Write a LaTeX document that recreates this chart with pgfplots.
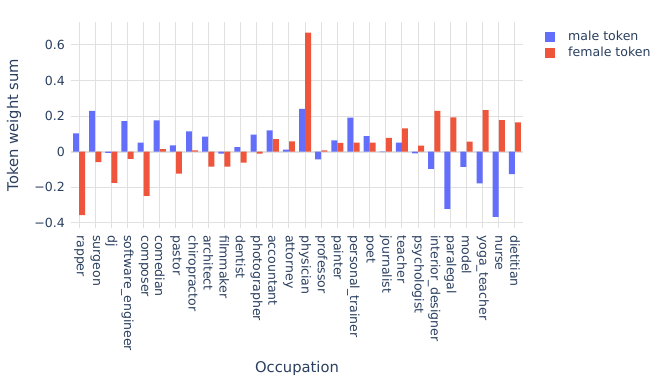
\documentclass[border=0pt]{standalone}
\usepackage{fontspec}
\setmainfont{DejaVu Sans}
\usepackage{pgfplots}
\usepackage{pgfplotstable}
\pgfplotsset{compat=1.18}
\definecolor{malec}{HTML}{636EFA}
\definecolor{femalec}{HTML}{EF553B}
\definecolor{txt}{HTML}{2A3F5F}
\definecolor{gridc}{HTML}{E0E0E0}

% x = category index, m = male token, f = female token
\pgfplotstableread{
x m f
0 0.103 -0.356
1 0.229 -0.058
2 -0.006 -0.176
3 0.172 -0.041
4 0.051 -0.249
5 0.176 0.015
6 0.036 -0.124
7 0.114 0.007
8 0.084 -0.084
9 -0.011 -0.084
10 0.026 -0.062
11 0.096 -0.011
12 0.120 0.071
13 0.011 0.058
14 0.240 0.669
15 -0.043 0.007
16 0.064 0.049
17 0.191 0.051
18 0.088 0.051
19 -0.002 0.077
20 0.051 0.131
21 -0.009 0.034
22 -0.097 0.229
23 -0.322 0.193
24 -0.086 0.056
25 -0.178 0.234
26 -0.367 0.178
27 -0.126 0.165
}\occdata

\begin{document}
\begin{tikzpicture}
\useasboundingbox (-71bp,-157bp) rectangle (593bp,228bp);
\begin{axis}[
  at={(0,0)}, anchor=south west,
  scale only axis,
  width=452bp, height=206bp,
  xmin=-0.5, xmax=27.5,
  ymin=-0.429, ymax=0.729,
  axis line style={draw=none},
  major tick length=0pt,
  xtick=data,
  xticklabels={rapper,surgeon,dj,software\_engineer,composer,comedian,pastor,chiropractor,architect,filmmaker,dentist,photographer,accountant,attorney,physician,professor,painter,personal\_trainer,poet,journalist,teacher,psychologist,interior\_designer,paralegal,model,yoga\_teacher,nurse,dietitian},
  xticklabel style={rotate=-90, anchor=west, inner sep=0pt, font=\fontsize{12.6}{14}\selectfont, text=txt},
  xticklabel shift=7bp,
  ytick={-0.4,-0.2,0,0.2,0.4,0.6},
  yticklabels={−0.4,−0.2,0,0.2,0.4,0.6},
  yticklabel style={anchor=east, inner sep=0pt, font=\fontsize{12.6}{14}\selectfont, text=txt},
  yticklabel shift=6bp,
  grid=major,
  grid style={gridc, line width=0.9bp},
  extra y ticks={0},
  extra y tick labels={},
  extra y tick style={grid style={gridc, line width=1.8bp}},
  xlabel={Occupation},
  ylabel={Token weight sum},
  xlabel style={at={(axis description cs:0.5,-0.684)}, anchor=center, font=\fontsize{14.8}{16}\selectfont, text=txt},
  ylabel style={at={(axis description cs:-0.126,0.5)}, anchor=center, font=\fontsize{14.8}{16}\selectfont, text=txt},
  legend style={at={(axis description cs:1,1)}, anchor=north west, xshift=22bp, yshift=-9bp,
    draw=none, fill=none, inner sep=0pt, row sep=5bp,
    font=\fontsize{12.6}{14}\selectfont, text=txt,
    nodes={inner sep=0pt, anchor=west}},
  legend cell align=left,
  legend image code/.code={\fill[#1] (0bp,-5bp) rectangle (10bp,5bp); \path (23bp,0bp);},
]
\addplot[ybar, bar width=0.37, bar shift=-0.19, fill=malec, draw=none] table[x=x, y=m] {\occdata};
\addlegendentry{male token}
\addplot[ybar, bar width=0.37, bar shift=0.19, fill=femalec, draw=none] table[x=x, y=f] {\occdata};
\addlegendentry{female token}
\end{axis}
\end{tikzpicture}
\end{document}
